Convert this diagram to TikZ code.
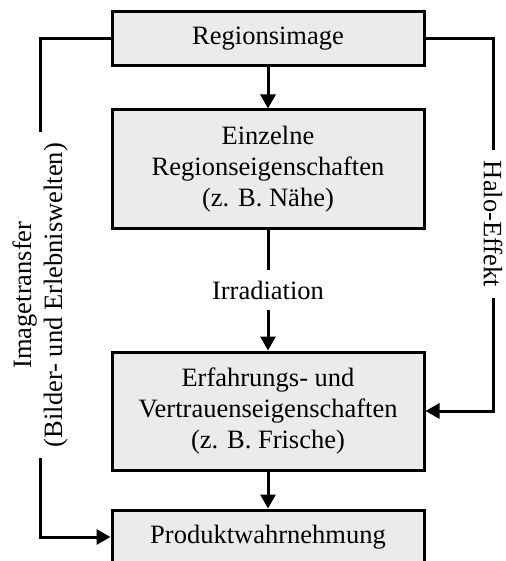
\documentclass[tikz,border=0pt]{standalone}
\usepackage{fontspec}
\setmainfont{Liberation Serif}
\usetikzlibrary{arrows.meta}

\begin{document}
\begin{tikzpicture}[x=1pt, y=-1pt, line width=3pt,
        >={Triangle[width=15pt,length=14pt]},
        box/.style={draw, fill=black!8, minimum width=312pt, align=center,
            font=\fontsize{26.5}{31}\selectfont},
        lbl/.style={fill=white, align=center, inner xsep=11pt, inner ysep=2pt,
            font=\fontsize{26.5}{31}\selectfont}]
        \useasboundingbox (0, 0) rectangle (505, 561);
        \node[box, minimum height=54pt] (img) at (268, 39) {Regionsimage};
        \node[box, minimum height=118pt] (einz) at (268, 169) {Einzelne\\Regionseigenschaften\\(z. B. Nähe)};
        \node[box, minimum height=118pt] (erf) at (268, 411) {Erfahrungs- und\\Vertrauenseigenschaften\\(z. B. Frische)};
        \node[box, minimum height=54pt] (prod) at (268, 537) {Produktwahrnehmung};
        \node[lbl, inner xsep=2pt, inner ysep=9pt] (irr) at (268, 290) {Irradiation};
        \draw[->] (img) -- (einz);
        \draw (einz) -- (irr);
        \draw[->] (irr) -- (erf);
        \draw[->] (erf) -- (prod);
        \coordinate (lb) at (40, 537);
        \coordinate (rb) at (493, 411);
        \draw[->] (img.west) -| (lb) -- (prod.west);
        \draw[->] (img.east) -| (rb) -- (erf.east);
        \node[lbl, rotate=90] (imtr) at (40, 295) {Imagetransfer\\(Bilder- und Erlebniswelten)};
        \node[lbl, rotate=-90] (halo) at (493, 224) {Halo-Effekt};
    \end{tikzpicture}
\end{document}
